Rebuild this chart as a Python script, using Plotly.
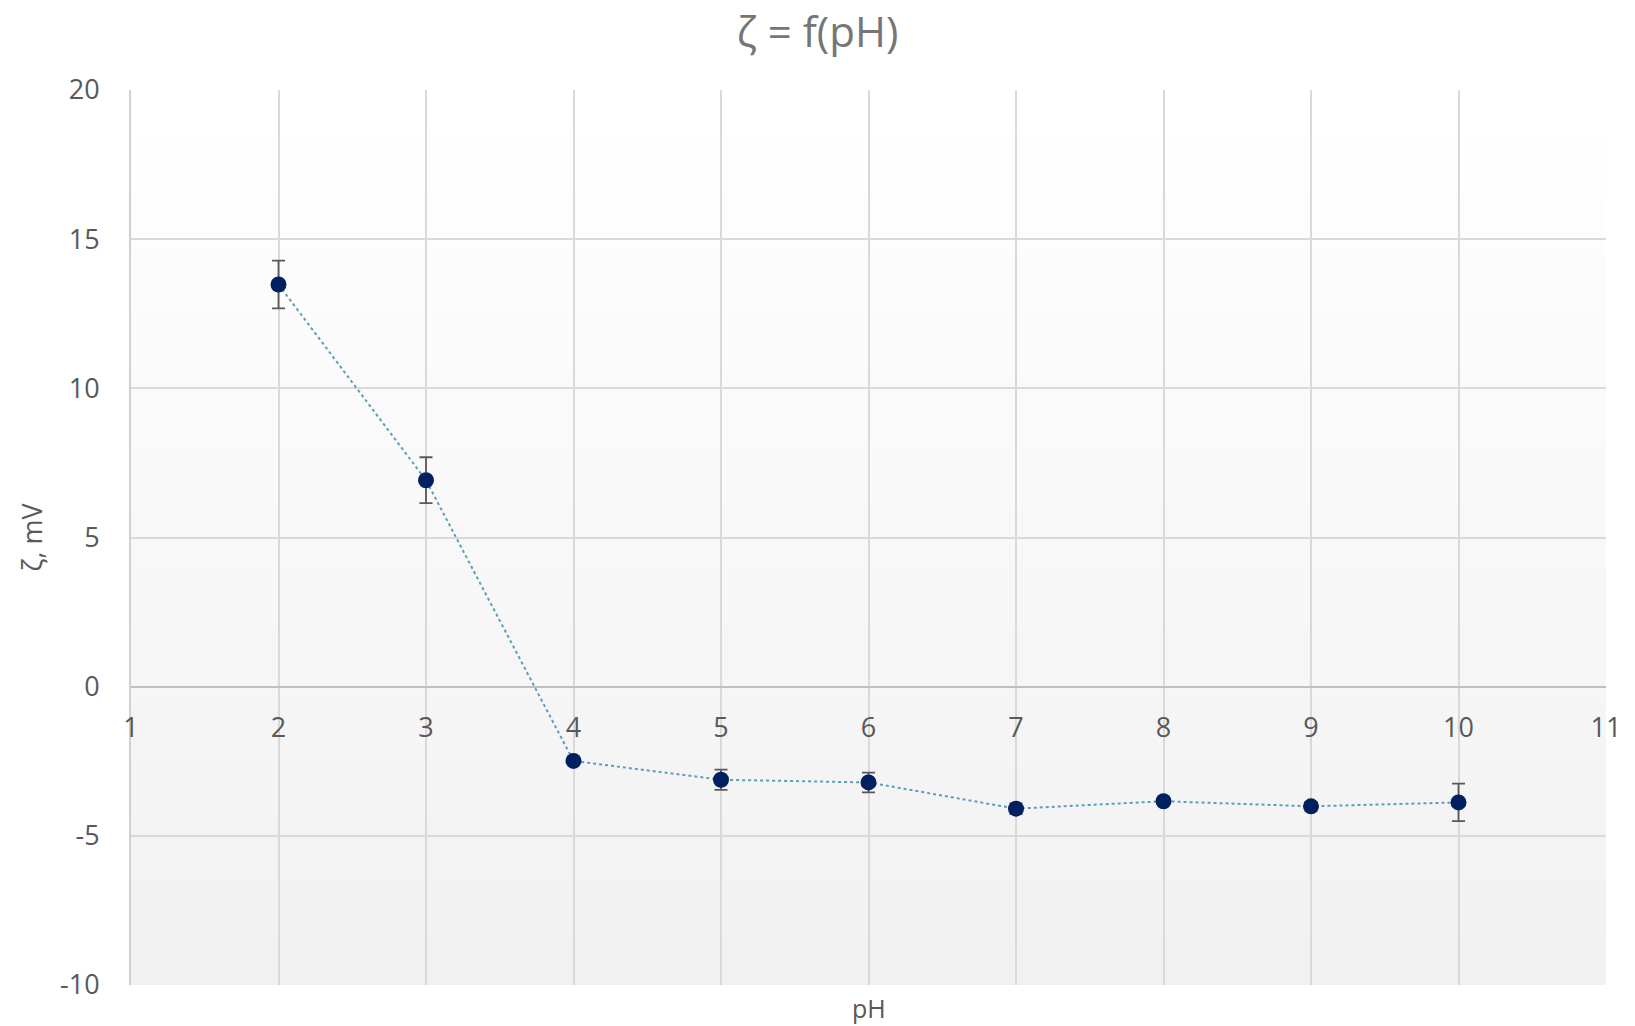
import plotly.graph_objects as go

# Zeta potential vs. pH measurements
ph = [2, 3, 4, 5, 6, 7, 8, 9, 10]
zeta_mv = [13.48, 6.92, -2.49, -3.12, -3.21, -4.09, -3.84, -4.01, -3.88]
zeta_err = [0.80, 0.77, 0.10, 0.34, 0.33, 0.18, 0.10, 0.15, 0.63]

x_range = [1, 11]
y_range = [-10, 20]
x_ticks = list(range(1, 12))
y_ticks = [-10, -5, 0, 5, 10, 15, 20]

FONT = "Open Sans"
TICK_COLOR = "#595959"
GRID_COLOR = "#d9d9d9"

fig = go.Figure()

fig.add_trace(go.Scatter(
    x=ph,
    y=zeta_mv,
    mode="lines+markers",
    line=dict(color="#5a9fb8", width=2, dash="dot"),
    marker=dict(color="#002060", size=16),
    error_y=dict(type="data", array=zeta_err, visible=True,
                 color="#595959", thickness=1.8, width=6.5),
    showlegend=False,
    hoverinfo="x+y",
))

# Vertical background gradient (white at top to light grey at bottom)
n_strips = 60
for i in range(n_strips):
    t = i / (n_strips - 1)
    v = round(255 - t * (255 - 241))
    fig.add_shape(
        type="rect", xref="x domain", yref="y domain",
        x0=0, x1=1, y0=1 - (i + 1) / n_strips, y1=1 - i / n_strips + 0.001,
        fillcolor=f"rgb({v},{v},{v})", line=dict(width=0), layer="below",
    )

# x axis crosses the y axis at zero
y_domain = [0, 1]
zero_pos = y_domain[0] + (0 - y_range[0]) / (y_range[1] - y_range[0]) * (y_domain[1] - y_domain[0])

# x axis title sits under the plot area, not under the crossing axis
fig.add_annotation(
    text="pH", xref="x domain", yref="paper", x=0.5, y=0,
    xanchor="center", yanchor="middle", yshift=-23, showarrow=False,
    font=dict(family=FONT, size=25, color=TICK_COLOR),
)

fig.update_layout(
    width=1635,
    height=1026,
    margin=dict(l=131, r=29, t=90, b=41),
    paper_bgcolor="white",
    plot_bgcolor="rgba(0,0,0,0)",
    font=dict(family=FONT, color=TICK_COLOR),
    title=dict(text="ζ = f(pH)", x=0.5, xanchor="center", y=0.969, yanchor="middle",
               font=dict(family=FONT, size=42, color="#767676")),
    xaxis=dict(
        range=x_range, tickvals=x_ticks, ticktext=[str(v) for v in x_ticks],
        showgrid=True, gridcolor=GRID_COLOR, gridwidth=2,
        zeroline=False, showline=False, ticks="",
        anchor="free", position=zero_pos,
        ticklabelstandoff=22,
        tickfont=dict(family=FONT, size=27, color=TICK_COLOR),
    ),
    yaxis=dict(
        range=y_range, tickvals=y_ticks, ticktext=[str(v) for v in y_ticks],
        showgrid=True, gridcolor=GRID_COLOR, gridwidth=2,
        zeroline=True, zerolinecolor="#bfbfbf", zerolinewidth=2,
        showline=True, linecolor="#d0d0d0", linewidth=2, ticks="",
        ticklabelstandoff=24,
        tickfont=dict(family=FONT, size=27, color=TICK_COLOR),
        title=dict(text="ζ, mV", standoff=10, font=dict(family=FONT, size=27, color=TICK_COLOR)),
    ),
)

fig.write_html("out.html")
